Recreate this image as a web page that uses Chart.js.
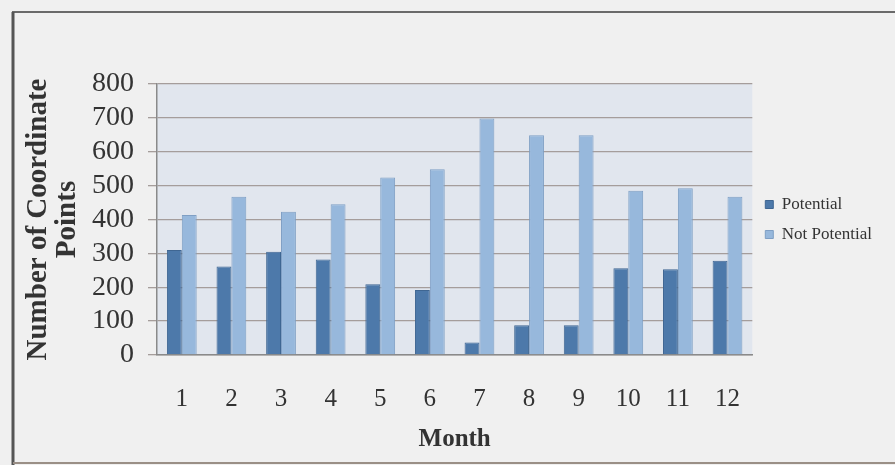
<!DOCTYPE html>
<html>
<head>
<meta charset="utf-8">
<script src="https://cdn.jsdelivr.net/npm/chart.js@4"></script>
<style>
  html, body { margin: 0; padding: 0; background: #f0f0f0; }
  #wrap { width: 895px; height: 465px; }
</style>
</head>
<body>
<div id="wrap"><canvas id="myChart" width="895" height="465"></canvas></div>
<script>
// data
const months = ["1", "2", "3", "4", "5", "6", "7", "8", "9", "10", "11", "12"];
const potential = [310, 261, 305, 282, 209, 192, 37, 88, 88, 256, 253, 278];
const notPotential = [413, 467, 423, 445, 524, 548, 698, 649, 649, 485, 492, 467];
const yTicks = [0, 100, 200, 300, 400, 500, 600, 700, 800];

const serif = "'Liberation Serif', 'Times New Roman', serif";
const textColor = "#333";

// background, plot area fill and the outer frame
const backdrop = {
  id: "backdrop",
  beforeDraw(chart) {
    const { ctx, chartArea: a } = chart;
    ctx.save();
    ctx.fillStyle = "#f0f0f0";
    ctx.fillRect(0, 0, chart.width, chart.height);
    ctx.fillStyle = "#e1e6ee";
    ctx.fillRect(a.left, a.top, a.right - a.left, a.bottom - a.top);
    ctx.restore();
  },
  afterDraw(chart) {
    const ctx = chart.ctx;
    ctx.save();
    ctx.strokeStyle = "#6a6a6a";
    ctx.lineWidth = 2;
    ctx.beginPath();
    ctx.moveTo(13, 462);
    ctx.lineTo(13, 12);
    ctx.lineTo(895, 12);
    ctx.stroke();
    ctx.lineWidth = 3;
    ctx.strokeStyle = "#555";
    ctx.beginPath();
    ctx.moveTo(13, 12);
    ctx.lineTo(13, 465);
    ctx.stroke();
    ctx.lineWidth = 2;
    ctx.strokeStyle = "#9a8f86";
    ctx.beginPath();
    ctx.moveTo(13, 463);
    ctx.lineTo(895, 463);
    ctx.stroke();
    ctx.restore();
  },
};

var config = {
  type: "bar",
  data: {
    labels: months,
    datasets: [
      {
        label: "Potential",
        data: potential,
        backgroundColor: "#4d79aa",
        borderColor: "#3f6692",
        borderWidth: 1,
      },
      {
        label: "Not Potential",
        data: notPotential,
        backgroundColor: "#97b8dc",
        borderColor: "#7f9fc4",
        borderWidth: 1,
      },
    ],
  },
  options: {
    responsive: false,
    animation: false,
    categoryPercentage: 0.6,
    barPercentage: 1.0,
    layout: {
      padding: { left: 20, top: 84, right: 13, bottom: 10 },
    },
    plugins: {
      tooltip: { enabled: false },
      legend: {
        position: "right",
        fullSize: false,
        labels: {
          color: textColor,
          boxWidth: 8,
          boxHeight: 8,
          padding: 13,
          font: { family: serif, size: 17 },
        },
      },
    },
    scales: {
      x: {
        afterFit(scale) {
          scale.height = 100;
        },
        grid: { display: false },
        border: { display: true, color: "#8a8a8a", width: 1.5 },
        ticks: {
          color: textColor,
          padding: 21,
          font: { family: serif, size: 25 },
        },
        title: {
          display: true,
          text: "Month",
          color: textColor,
          padding: { top: 0, bottom: 0 },
          font: { family: serif, size: 25, weight: "bold" },
        },
      },
      y: {
        min: 0,
        max: 800,
        afterFit(scale) {
          scale.width = 137;
        },
        afterBuildTicks(scale) {
          scale.ticks = yTicks.map((v) => ({ value: v }));
        },
        grid: {
          color: "#a59d9b",
          lineWidth: 1.3,
          tickLength: 9,
        },
        border: { display: true, color: "#8a8a8a", width: 1.5 },
        ticks: {
          autoSkip: false,
          color: textColor,
          padding: 14,
          font: { family: serif, size: 28 },
        },
        title: {
          display: true,
          text: ["Number of Coordinate", "Points"],
          color: textColor,
          padding: { top: 4, bottom: 0 },
          font: { family: serif, size: 29, weight: "bold", lineHeight: 1.0 },
        },
      },
    },
  },
  plugins: [backdrop],
};

const myChart = new Chart(document.getElementById("myChart"), config);
</script>
</body>
</html>
